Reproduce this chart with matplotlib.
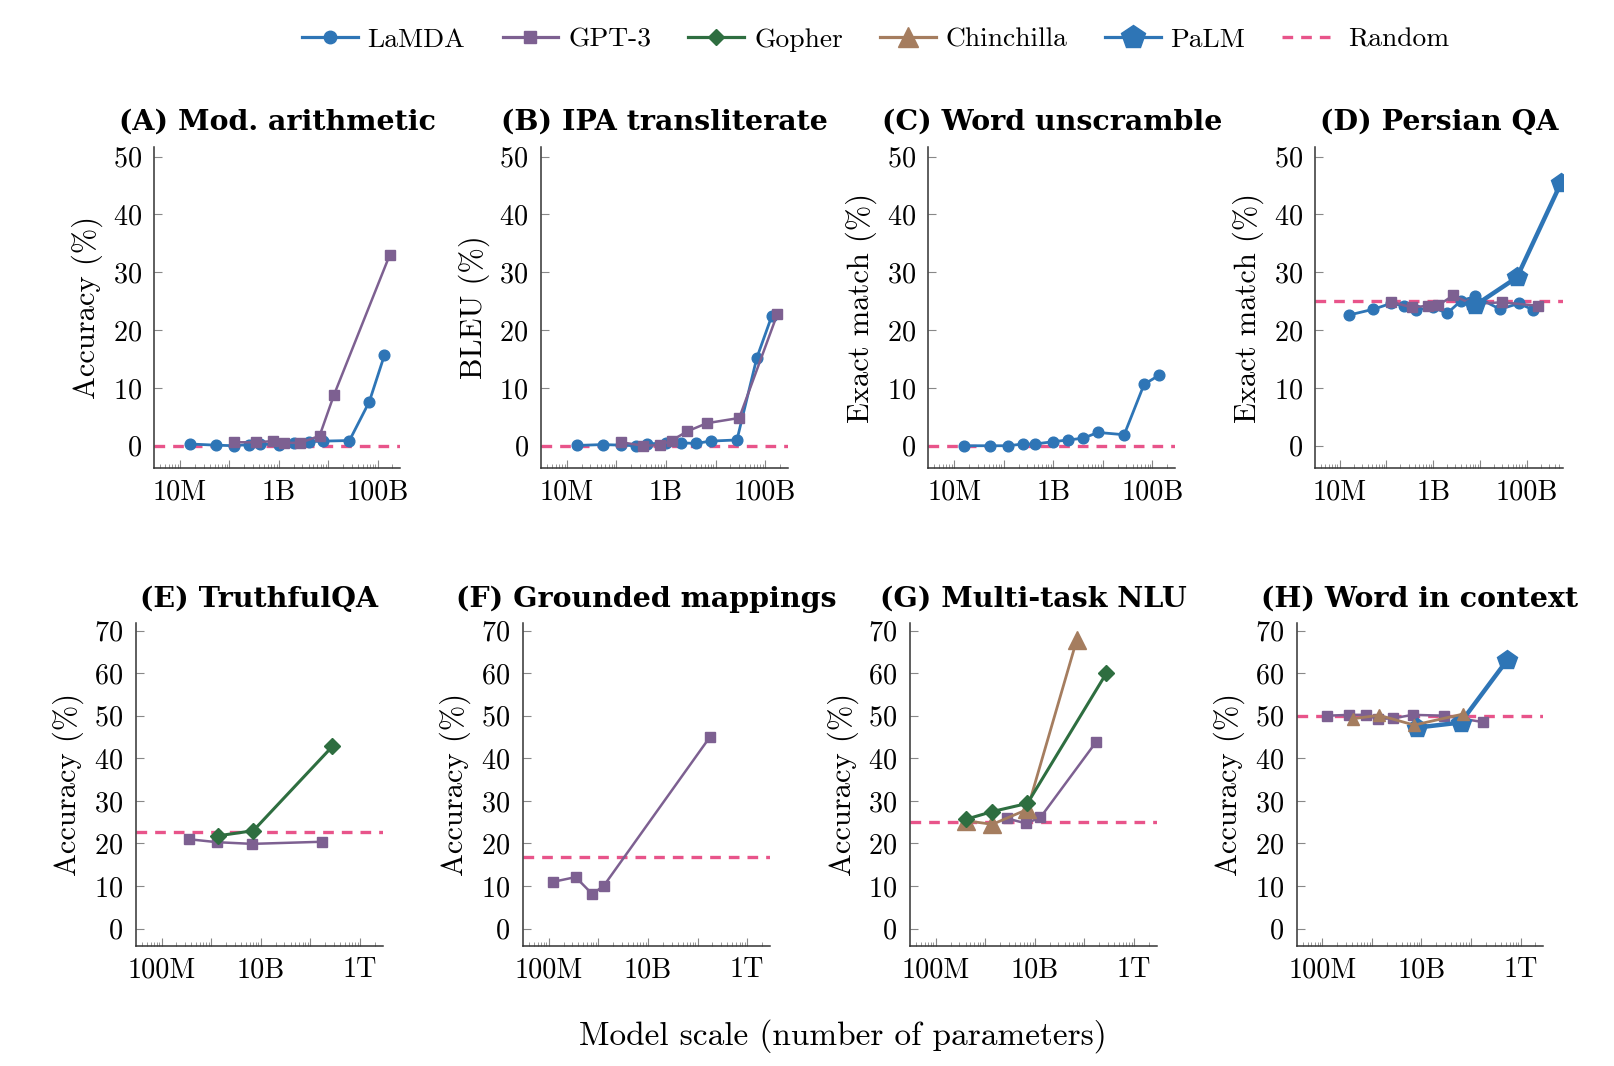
"""
Emergent abilities: eight few-shot tasks vs model scale
"""

import numpy as np
import matplotlib.pyplot as plt
from matplotlib.ticker import FixedLocator, LogLocator, NullFormatter
from matplotlib.lines import Line2D

plt.rcParams['font.family'] = 'cmr10'
plt.rcParams['axes.formatter.use_mathtext'] = True

# model sizes (number of parameters)
lamda_x = [16e6, 53e6, 125e6, 244e6, 422e6, 1e9, 2e9, 4e9, 8e9, 27e9, 68e9, 137e9]
gpt3_x = [125e6, 350e6, 760e6, 1.3e9, 2.7e9, 6.7e9, 13e9, 175e9]
gpt3_x_b = [125e6, 350e6, 760e6, 1.3e9, 2.7e9, 6.7e9, 30e9, 175e9]
gpt3_x_e = [350e6, 1.3e9, 6.7e9, 175e9]
gpt3_x_f = [125e6, 350e6, 760e6, 1.3e9, 175e9]
gpt3_x_g = [2.7e9, 6.7e9, 13e9, 175e9]
gpt3_x_h = [125e6, 350e6, 760e6, 1.3e9, 2.7e9, 6.7e9, 28e9, 175e9]
gopher_x = [417e6, 1.4e9, 7.1e9, 280e9]
gopher_x_e = [1.4e9, 7.1e9, 280e9]
chinchilla_x = [417e6, 1.4e9, 7.1e9, 70e9]
palm_x = [8e9, 62e9, 540e9]

# (A) Mod. arithmetic
lamda_a = [0.3, 0.1, 0.0, 0.2, 0.3, 0.2, 0.4, 0.7, 0.8, 0.9, 7.6, 15.6]
gpt3_a = [0.6, 0.6, 0.8, 0.5, 0.5, 1.7, 8.7, 32.9]
# (B) IPA transliterate
lamda_b = [0.05, 0.2, 0.1, 0.0, 0.3, 0.5, 0.5, 0.4, 0.8, 1.0, 15.2, 22.5]
gpt3_b = [0.6, 0.0, 0.1, 0.9, 2.5, 3.9, 4.8, 22.7]
# (C) Word unscramble
lamda_c = [0.0, 0.0, 0.0, 0.3, 0.3, 0.7, 1.0, 1.3, 2.3, 1.9, 10.6, 12.2]
# (D) Persian QA
lamda_d = [22.6, 23.6, 24.6, 24.2, 23.5, 23.9, 22.9, 25.1, 25.8, 23.6, 24.6, 23.5]
gpt3_d = [24.9, 23.9, 24.2, 24.3, 26.0, 24.5, 24.8, 24.2]
palm_d = [24.3, 29.1, 45.4]
# (E) TruthfulQA
gpt3_e = [21.0, 20.3, 19.9, 20.4]
gopher_e = [21.8, 23.0, 42.8]
# (F) Grounded mappings
gpt3_f = [11.0, 12.1, 8.1, 10.1, 44.9]
# (G) Multi-task NLU
gopher_g = [25.7, 27.5, 29.4, 60.0]
chinchilla_g = [25.3, 24.5, 28.0, 67.7]
gpt3_g = [25.9, 24.7, 26.1, 43.9]
# (H) Word in context
gpt3_h = [50.0, 50.2, 50.2, 49.2, 49.4, 50.2, 50.0, 48.5]
chinchilla_h = [49.3, 50.1, 47.8, 50.4]
palm_h = [47.2, 48.4, 63.1]

random_lvl = [0, 0, 0, 25, 22.6, 16.8, 25, 50]

c_lamda = '#2e75b6'
c_gpt3 = '#7d6091'
c_gopher = '#2e6e40'
c_chin = '#a57d5f'
c_palm = '#2e75b6'
c_rand = '#e8548a'

fig = plt.figure(figsize=(16.14, 10.66), dpi=100)

top_b, top_h = 0.5607, 0.3017
bot_b, bot_h = 0.1129, 0.3024
boxes = [
    [0.0956, top_b, 0.1524, top_h],
    [0.3352, top_b, 0.1530, top_h],
    [0.5752, top_b, 0.1529, top_h],
    [0.8149, top_b, 0.1533, top_h],
    [0.0841, bot_b, 0.1530, bot_h],
    [0.3239, bot_b, 0.1532, bot_h],
    [0.5638, bot_b, 0.1528, bot_h],
    [0.8034, bot_b, 0.1528, bot_h],
]
titles = ['(A) Mod. arithmetic', '(B) IPA transliterate', '(C) Word unscramble',
          '(D) Persian QA', '(E) TruthfulQA', '(F) Grounded mappings',
          '(G) Multi-task NLU', '(H) Word in context']
ylabels = ['Accuracy (%)', 'BLEU (%)', 'Exact match (%)', 'Exact match (%)',
           'Accuracy (%)', 'Accuracy (%)', 'Accuracy (%)', 'Accuracy (%)']

axs = [fig.add_axes(b) for b in boxes]


def lamda(ax, x, y):
    ax.plot(x, y, '-o', color=c_lamda, lw=2.0, ms=7.7, zorder=3)


def gpt3(ax, x, y):
    ax.plot(x, y, '-s', color=c_gpt3, lw=1.8, ms=7.2, zorder=4)


def palm(ax, x, y):
    ax.plot(x, y, '-p', color=c_palm, lw=3.2, ms=15, zorder=5)


def chin(ax, x, y, ms=9):
    ax.plot(x, y, '-^', color=c_chin, lw=2.0, ms=ms, zorder=6)


def gopher(ax, x, y):
    ax.plot(x, y, '-D', color=c_gopher, lw=2.2, ms=8, zorder=7)


lamda(axs[0], lamda_x, lamda_a)
gpt3(axs[0], gpt3_x, gpt3_a)

lamda(axs[1], lamda_x, lamda_b)
gpt3(axs[1], gpt3_x_b, gpt3_b)

lamda(axs[2], lamda_x, lamda_c)

lamda(axs[3], lamda_x, lamda_d)
gpt3(axs[3], gpt3_x_b, gpt3_d)
palm(axs[3], palm_x, palm_d)

gpt3(axs[4], gpt3_x_e, gpt3_e)
gopher(axs[4], gopher_x_e, gopher_e)

gpt3(axs[5], gpt3_x_f, gpt3_f)

gpt3(axs[6], gpt3_x_g, gpt3_g)
chin(axs[6], chinchilla_x, chinchilla_g, ms=13)
gopher(axs[6], gopher_x, gopher_g)

gpt3(axs[7], gpt3_x_h, gpt3_h)
palm(axs[7], palm_x, palm_h)
chin(axs[7], chinchilla_x, chinchilla_h, ms=9)

for i, ax in enumerate(axs):
    ax.set_xscale('log')
    ax.axhline(random_lvl[i], color=c_rand, lw=2.4, ls=(0, (3.2, 2.4)), zorder=2)
    if i < 4:
        ax.set_xlim(10**6.48, 10**(11.77 if i == 3 else 11.46))
        ax.set_ylim(-3.9, 51.7)
        ax.set_yticks(np.arange(0, 51, 10))
        labels = {1e7: '10M', 1e9: '1B', 1e11: '100B'}
    else:
        ax.set_xlim(10**7.48, 10**12.46)
        ax.set_ylim(-4.0, 71.7)
        ax.set_yticks(np.arange(0, 71, 10))
        labels = {1e8: '100M', 1e10: '10B', 1e12: '1T'}
    decades = [10.0**k for k in range(6, 14)]
    ax.xaxis.set_major_locator(FixedLocator(decades))
    ax.set_xticklabels([labels.get(d, '') for d in decades])
    ax.xaxis.set_minor_locator(LogLocator(base=10, subs=np.arange(2, 10), numticks=100))
    ax.xaxis.set_minor_formatter(NullFormatter())
    ax.tick_params(axis='both', which='major', direction='in', length=6, width=0.8,
                   color='#888888', labelsize=20.3, pad=9)
    ax.tick_params(axis='x', which='minor', direction='in', length=3.2, width=0.6,
                   color='#888888')
    ax.tick_params(axis='x', which='major', pad=8)
    for s in ['top', 'right']:
        ax.spines[s].set_visible(False)
    for s in ['left', 'bottom']:
        ax.spines[s].set_linewidth(1.1)
        ax.spines[s].set_color('#333333')
    ax.set_title(titles[i], family='DejaVu Serif', fontweight='bold', fontsize=20.5, pad=12)
    ax.set_ylabel(ylabels[i], fontsize=22, labelpad=7)

fig.text(0.522, 0.028, 'Model scale (number of parameters)', ha='center', va='center',
         fontsize=24)

handles = [
    Line2D([], [], color=c_lamda, lw=2.3, marker='o', ms=9),
    Line2D([], [], color=c_gpt3, lw=2.3, marker='s', ms=8.5),
    Line2D([], [], color=c_gopher, lw=2.3, marker='D', ms=8.4),
    Line2D([], [], color=c_chin, lw=2.3, marker='^', ms=14),
    Line2D([], [], color=c_palm, lw=2.3, marker='p', ms=18),
    Line2D([], [], color=c_rand, lw=2.4, ls=(0, (3.2, 2.4))),
]
fig.legend(handles, ['LaMDA', 'GPT-3', 'Gopher', 'Chinchilla', 'PaLM', 'Random'],
           loc='center', bbox_to_anchor=(0.5425, 0.963), ncol=6, frameon=False,
           fontsize=19.8, handlelength=2.03, handletextpad=0.36, columnspacing=1.35)

fig.savefig('out.png', dpi=100)
